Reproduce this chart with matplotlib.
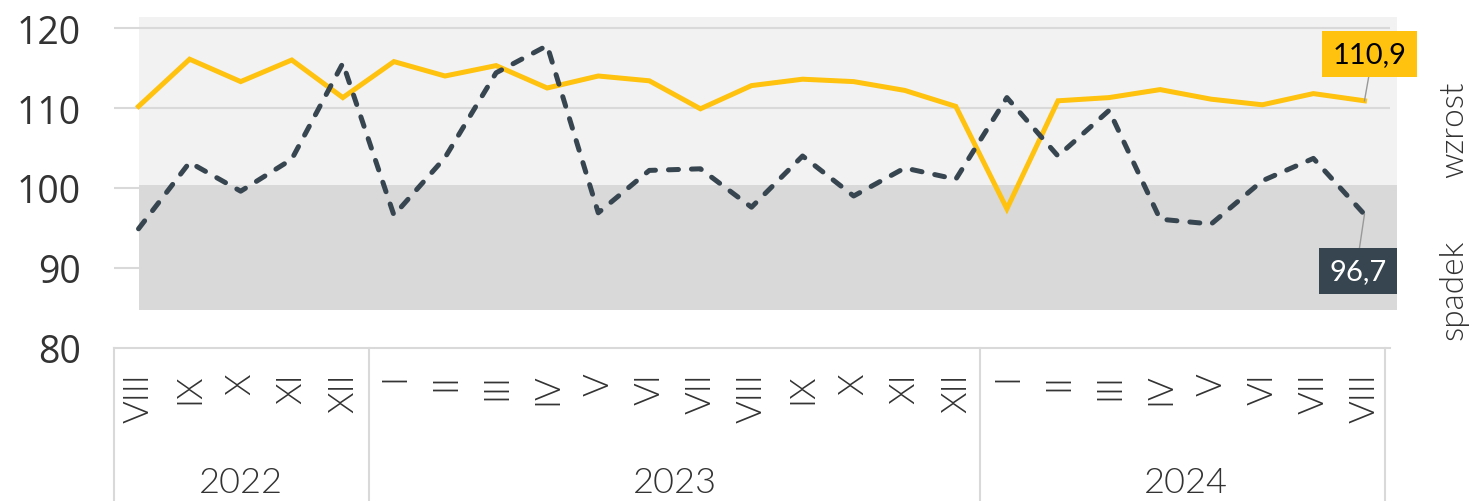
import numpy as np
import matplotlib.pyplot as plt
from matplotlib.patches import Rectangle
import matplotlib.transforms as mtransforms

plt.rcParams['font.family'] = ['Lato', 'DejaVu Sans']

# dane
months = ['VIII', 'IX', 'X', 'XI', 'XII',
          'I', 'II', 'III', 'IV', 'V', 'VI', 'VII', 'VIII', 'IX', 'X', 'XI', 'XII',
          'I', 'II', 'III', 'IV', 'V', 'VI', 'VII', 'VIII']
years = ['2022', '2023', '2024']
year_spans = [(0, 4), (5, 16), (17, 24)]
yellow_vals = [110.2, 116.1, 113.3, 116.0, 111.3, 115.8, 114.0, 115.3, 112.5, 114.0,
               113.4, 109.9, 112.8, 113.6, 113.3, 112.2, 110.2, 97.4, 110.9, 111.3,
               112.3, 111.1, 110.4, 111.8, 110.9]
dark_vals = [94.9, 103.2, 99.6, 103.6, 115.6, 96.6, 103.8, 114.4, 117.8, 96.9,
             102.2, 102.4, 97.6, 104.0, 99.0, 102.5, 101.1, 111.3, 104.0, 109.7,
             96.1, 95.5, 100.9, 103.7, 96.7]

YELLOW = '#FFC20E'
DARK = '#36454F'
TXT = '#333333'
GRID = '#D9D9D9'

W, H = 1471, 502
fig = plt.figure(figsize=(W / 100, H / 100), dpi=100)
ax_l, ax_r, ax_b, ax_t = 114, 1390, 349, 17
ax = fig.add_axes([ax_l / W, 1 - ax_b / H, (ax_r - ax_l) / W, (ax_b - ax_t) / H])

x = np.arange(len(months))
ax.set_xlim(-0.48, 24.5)
ax.set_ylim(80, 121.5)

# tlo: wzrost / spadek
ax.add_patch(Rectangle((0, 100.4), 24.63, 21.0, facecolor='#F2F2F2', edgecolor='none',
                       zorder=0, clip_on=False))
ax.add_patch(Rectangle((0, 84.75), 24.63, 15.65, facecolor='#D9D9D9', edgecolor='none',
                       zorder=0, clip_on=False))

for v in [90, 100, 110, 120]:
    ax.axhline(v, color=GRID, lw=1.5, zorder=1)

ax.plot(x, yellow_vals, color=YELLOW, lw=3.6, zorder=3, solid_joinstyle='miter')
ax.plot(x, dark_vals, color=DARK, lw=3.6, zorder=4, dashes=(2.0, 2.6),
        dash_capstyle='round')

for s in ['top', 'right', 'left']:
    ax.spines[s].set_visible(False)
ax.spines['bottom'].set_color(GRID)
ax.spines['bottom'].set_linewidth(1.5)

ax.set_yticks([80, 90, 100, 110, 120])
ax.tick_params(axis='y', length=0, pad=24, labelsize=27, labelcolor=TXT)
for lab in ax.get_yticklabels():
    lab.set_family(['Open Sans', 'DejaVu Sans'])
ax.set_xticks([])

# etykiety miesiecy i lat
trans = mtransforms.blended_transform_factory(ax.transData, ax.transAxes)
h = ax_b - ax_t
for i, m in enumerate(months):
    ax.text(i, -24 / h, m, rotation=90, ha='center', va='top', fontsize=25,
            fontweight=300, color=TXT, transform=trans)
for yr, (a, b) in zip(years, year_spans):
    ax.text((a + b) / 2, -134 / h, yr, ha='center', va='center', fontsize=26,
            fontweight=300, color=TXT, transform=trans)
for sx in [-0.48, 4.52, 16.48, 24.4]:
    ax.plot([sx, sx], [0, -(H - ax_b) / h], color=GRID, lw=1.5, transform=trans,
            clip_on=False)

# etykiety wartosci
last = len(months) - 1
ax.plot([last, last + 0.1], [yellow_vals[-1], 114.5], color='#999999', lw=1, zorder=5,
        clip_on=False)
ax.text(last + 0.1, 116.75, '110,9', fontsize=21, color='black', ha='center', va='center',
        zorder=6, bbox=dict(boxstyle='square,pad=0.35', facecolor=YELLOW, edgecolor='none'))
ax.plot([last, last - 0.1], [dark_vals[-1], 92.4], color='#999999', lw=1, zorder=5,
        clip_on=False)
ax.text(last - 0.12, 89.6, '96,7', fontsize=21, color='white', ha='center', va='center',
        zorder=6, bbox=dict(boxstyle='square,pad=0.35', facecolor=DARK, edgecolor='none'))

fig.text(1454 / W, 1 - 130 / H, 'wzrost', rotation=90, ha='center', va='center',
         fontsize=24, fontweight=300, color=TXT)
fig.text(1454 / W, 1 - 290 / H, 'spadek', rotation=90, ha='center', va='center',
         fontsize=24, fontweight=300, color=TXT)

fig.savefig('out.png', dpi=100)
